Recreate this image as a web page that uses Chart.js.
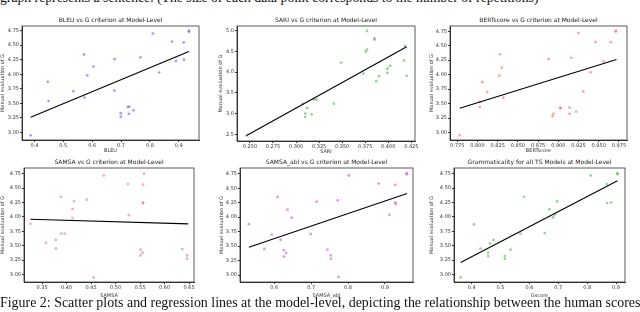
<!DOCTYPE html>
<html>
<head>
<meta charset="utf-8">
<script src="https://cdn.jsdelivr.net/npm/chart.js@4.4.1/dist/chart.umd.min.js"></script>
<style>
  body { margin: 0; width: 640px; height: 312px; overflow: hidden; background: #fff; position: relative; }
  canvas { position: absolute; }
  .txt { position: absolute; left: 0; white-space: nowrap; font-family: "Liberation Serif", serif;
         font-size: 14px; line-height: 14px; color: #111; transform-origin: 0 0; }
</style>
</head>
<body>
<div id="topText" class="txt" style="top:-9px">graph represents a sentence. (The size of each data point corresponds to the number of repetitions)</div>
<div id="caption" class="txt" style="top:296px">Figure 2: Scatter plots and regression lines at the model-level, depicting the relationship between the human scores</div>
<script>
// shared tick labels for the G axis
const gTicks = ["3.00", "3.25", "3.50", "3.75", "4.00", "4.25", "4.50", "4.75"];

// BLEU
const bleuX = [0.387, 0.446, 0.449, 0.535, 0.572, 0.573, 0.583, 0.604, 0.678, 0.677, 0.699, 0.699, 0.723, 0.729, 0.727, 0.743, 0.767, 0.810, 0.832, 0.877, 0.890, 0.917, 0.918, 0.935, 0.935];
const bleuG = [2.95, 3.87, 3.54, 3.71, 4.34, 3.60, 3.98, 4.13, 4.26, 3.72, 3.33, 3.27, 3.44, 3.44, 3.32, 3.38, 4.29, 4.70, 4.03, 4.56, 4.23, 4.55, 4.25, 4.75, 4.73];
const bleuLineX = [0.387, 0.935];
const bleuLineY = [3.26, 4.39];
const bleuTicks = ["0.4", "0.5", "0.6", "0.7", "0.8", "0.9"];

// SARI
const sariX = [0.2464, 0.307, 0.310, 0.310, 0.312, 0.317, 0.319, 0.322, 0.341, 0.349, 0.373, 0.3756, 0.377, 0.377, 0.385, 0.385, 0.387, 0.390, 0.399, 0.399, 0.402, 0.417, 0.418, 0.420];
const sariG = [2.47, 3.24, 3.00, 2.92, 3.13, 2.98, 3.34, 3.34, 3.24, 4.23, 3.96, 4.49, 4.54, 4.99, 4.81, 4.78, 3.78, 3.90, 3.98, 4.08, 4.15, 4.28, 4.63, 3.91];
const sariLineX = [0.2464, 0.420];
const sariLineY = [2.47, 4.61];
const sariTicks = ["0.250", "0.275", "0.300", "0.325", "0.350", "0.375", "0.400", "0.425"];
const sariGTicks = ["2.5", "3.0", "3.5", "4.0", "4.5", "5.0"];

// BERTscore
const bertX = [0.778, 0.803, 0.803, 0.806, 0.812, 0.827, 0.828, 0.830, 0.832, 0.888, 0.893, 0.894, 0.902, 0.903, 0.914, 0.914, 0.916, 0.922, 0.925, 0.931, 0.940, 0.946, 0.956, 0.965, 0.971, 0.971];
const bertG = [2.95, 3.53, 3.44, 3.87, 3.70, 3.98, 4.35, 4.12, 3.60, 4.27, 3.28, 3.32, 3.43, 3.42, 3.43, 3.32, 4.29, 3.36, 4.72, 3.71, 4.04, 4.56, 4.23, 4.56, 4.76, 4.74];
const bertLineX = [0.778, 0.972];
const bertLineY = [3.42, 4.26];
const bertTicks = ["0.775", "0.800", "0.825", "0.850", "0.875", "0.900", "0.925", "0.950", "0.975"];

// SAMSA
const samsaX = [0.326, 0.358, 0.378, 0.378, 0.388, 0.389, 0.396, 0.412, 0.412, 0.415, 0.441, 0.455, 0.476, 0.525, 0.527, 0.551, 0.555, 0.551, 0.556, 0.556, 0.556, 0.558, 0.636, 0.646, 0.646];
const samsaG = [3.88, 3.55, 3.60, 3.45, 4.35, 3.71, 3.71, 4.14, 3.98, 4.27, 4.30, 2.95, 4.72, 4.57, 4.03, 3.43, 3.38, 3.33, 4.56, 4.25, 4.24, 4.75, 3.44, 3.33, 3.27];
const samsaLineX = [0.326, 0.648];
const samsaLineY = [3.96, 3.88];
const samsaTicks = ["0.35", "0.40", "0.45", "0.50", "0.55", "0.60", "0.65"];

// SAMSA_abl
const ablX = [0.531, 0.573, 0.593, 0.609, 0.617, 0.626, 0.626, 0.632, 0.636, 0.647, 0.699, 0.715, 0.744, 0.753, 0.753, 0.772, 0.774, 0.802, 0.883, 0.912, 0.928, 0.928, 0.929, 0.959, 0.959];
const ablG = [3.88, 3.45, 3.70, 4.35, 3.61, 3.43, 3.32, 3.38, 4.13, 3.99, 3.71, 4.27, 3.44, 3.34, 3.28, 4.29, 2.97, 4.72, 4.58, 4.04, 4.56, 4.25, 4.23, 4.76, 4.74];
const ablLineX = [0.531, 0.960];
const ablLineY = [3.48, 4.41];
const ablTicks = ["0.6", "0.7", "0.8", "0.9"];

// Gscore
const gscX = [0.362, 0.408, 0.431, 0.457, 0.464, 0.476, 0.457, 0.515, 0.515, 0.535, 0.569, 0.582, 0.653, 0.669, 0.682, 0.688, 0.696, 0.812, 0.868, 0.869, 0.883, 0.905, 0.905];
const gscG = [2.95, 3.87, 3.45, 3.38, 3.54, 3.60, 3.32, 3.32, 3.27, 3.43, 3.71, 4.35, 3.72, 4.13, 3.99, 4.04, 4.27, 4.72, 4.57, 4.24, 4.25, 4.76, 4.74];
const gscLineX = [0.362, 0.905];
const gscLineY = [3.21, 4.63];
const gscTicks = ["0.4", "0.5", "0.6", "0.7", "0.8", "0.9"];

const INK = "#333";
const FONT = "DejaVu Sans";

// box around the axes, like matplotlib spines
const frame = {
  id: "frame",
  afterDraw(chart) {
    const { ctx, chartArea: a } = chart;
    ctx.save();
    ctx.strokeStyle = INK;
    ctx.lineWidth = 0.8;
    ctx.strokeRect(a.left, a.top, a.right - a.left, a.bottom - a.top);
    ctx.restore();
  },
};

const pts = (xs, ys) => xs.map((x, i) => ({ x, y: ys[i] }));

function axis(ticksArr, range, title, fit) {
  return {
    type: "linear",
    min: range[0],
    max: range[1],
    afterFit: fit,
    afterBuildTicks: (s) => { s.ticks = ticksArr.map((t) => ({ value: parseFloat(t) })); },
    ticks: {
      callback: (v, i) => ticksArr[i],
      font: { size: 5, family: FONT },
      color: INK,
      padding: 1,
      maxRotation: 0,
      autoSkip: false,
    },
    grid: { drawOnChartArea: false, tickLength: 2, tickColor: INK },
    border: { display: true, color: INK },
    title: { display: true, text: title, font: { size: 5, family: FONT }, color: INK, padding: 0 },
  };
}

function makeChart(p) {
  const b = p.box;
  const padR = 12, titleH = 15;
  const w = b.r - b.l + b.yw + padR;
  const h = b.b - b.t + titleH + b.xh;
  const c = document.createElement("canvas");
  c.width = w; c.height = h;
  c.style.left = (b.l - b.yw) + "px";
  c.style.top = (b.t - titleH) + "px";
  c.style.width = w + "px";
  c.style.height = h + "px";
  document.body.appendChild(c);

  new Chart(c, {
    type: "scatter",
    data: {
      datasets: [
        {
          data: pts(p.lineX, p.lineY),
          showLine: true,
          borderColor: "#000",
          borderWidth: 1.1,
          pointRadius: 0,
          order: 0,
        },
        {
          data: pts(p.x, p.y),
          backgroundColor: p.color,
          borderWidth: 0,
          pointRadius: 1.4,
          order: 1,
        },
      ],
    },
    options: {
      responsive: false,
      animation: false,
      layout: { padding: { left: 0, right: padR, top: 0, bottom: 0 } },
      plugins: {
        legend: { display: false },
        tooltip: { enabled: false },
        title: {
          display: true,
          text: p.title,
          fullSize: false,
          color: "#222",
          font: { size: 6, family: FONT, weight: "normal", lineHeight: "10px" },
          padding: { top: 4, bottom: 1 },
        },
      },
      scales: {
        x: axis(p.xTicks, p.xr, p.xLabel, (s) => { s.height = b.xh; }),
        y: axis(p.yTicks, p.yr, "Manual evaluation of G", (s) => { s.width = b.yw; }),
      },
    },
    plugins: [frame],
  });
}

const plots = [
  { title: "BLEU vs G criterion at Model-Level", xLabel: "BLEU", x: bleuX, y: bleuG, lineX: bleuLineX, lineY: bleuLineY,
    xTicks: bleuTicks, yTicks: gTicks, xr: [0.357, 0.970], yr: [2.87, 4.83], color: "rgba(70,70,255,0.5)",
    box: { l: 22, r: 199, t: 26, b: 140, yw: 22, xh: 14 } },
  { title: "SARI vs G criterion at Model-Level", xLabel: "SARI", x: sariX, y: sariG, lineX: sariLineX, lineY: sariLineY,
    xTicks: sariTicks, yTicks: sariGTicks, xr: [0.236, 0.429], yr: [2.34, 5.11], color: "rgba(50,170,50,0.5)",
    box: { l: 237, r: 415, t: 26, b: 141, yw: 19, xh: 14 } },
  { title: "BERTscore vs G criterion at Model-Level", xLabel: "BERTscore", x: bertX, y: bertG, lineX: bertLineX, lineY: bertLineY,
    xTicks: bertTicks, yTicks: gTicks, xr: [0.766, 0.985], yr: [2.87, 4.84], color: "rgba(255,60,60,0.45)",
    box: { l: 450, r: 627, t: 26, b: 140, yw: 21, xh: 14 } },
  { title: "SAMSA vs G criterion at Model-Level", xLabel: "SAMSA", x: samsaX, y: samsaG, lineX: samsaLineX, lineY: samsaLineY,
    xTicks: samsaTicks, yTicks: gTicks, xr: [0.313, 0.660], yr: [2.87, 4.85], color: "rgba(230,70,100,0.45)",
    box: { l: 24, r: 194, t: 168, b: 282, yw: 24, xh: 17 } },
  { title: "SAMSA_abl vs G criterion at Model-Level", xLabel: "SAMSA_abl", x: ablX, y: ablG, lineX: ablLineX, lineY: ablLineY,
    xTicks: ablTicks, yTicks: gTicks, xr: [0.507, 0.976], yr: [2.88, 4.85], color: "rgba(200,50,200,0.5)",
    box: { l: 240, r: 413, t: 168, b: 282, yw: 21, xh: 17 } },
  { title: "Grammaticality for all TS Models at Model-Level", xLabel: "Gscore", x: gscX, y: gscG, lineX: gscLineX, lineY: gscLineY,
    xTicks: gscTicks, yTicks: gTicks, xr: [0.339, 0.931], yr: [2.87, 4.85], color: "rgba(50,170,50,0.5)",
    box: { l: 454, r: 625, t: 168, b: 282, yw: 25, xh: 17 } },
];

plots.forEach(makeChart);

// stretch the two text lines to the widths they take in the figure
function fit(id, target) {
  const el = document.getElementById(id);
  el.style.transform = "scaleX(" + (target / el.offsetWidth) + ")";
}
fit("topText", 538);
fit("caption", 640);
// caption sits on top of the lower axis labels
document.body.appendChild(document.getElementById("caption"));
</script>
</body>
</html>
